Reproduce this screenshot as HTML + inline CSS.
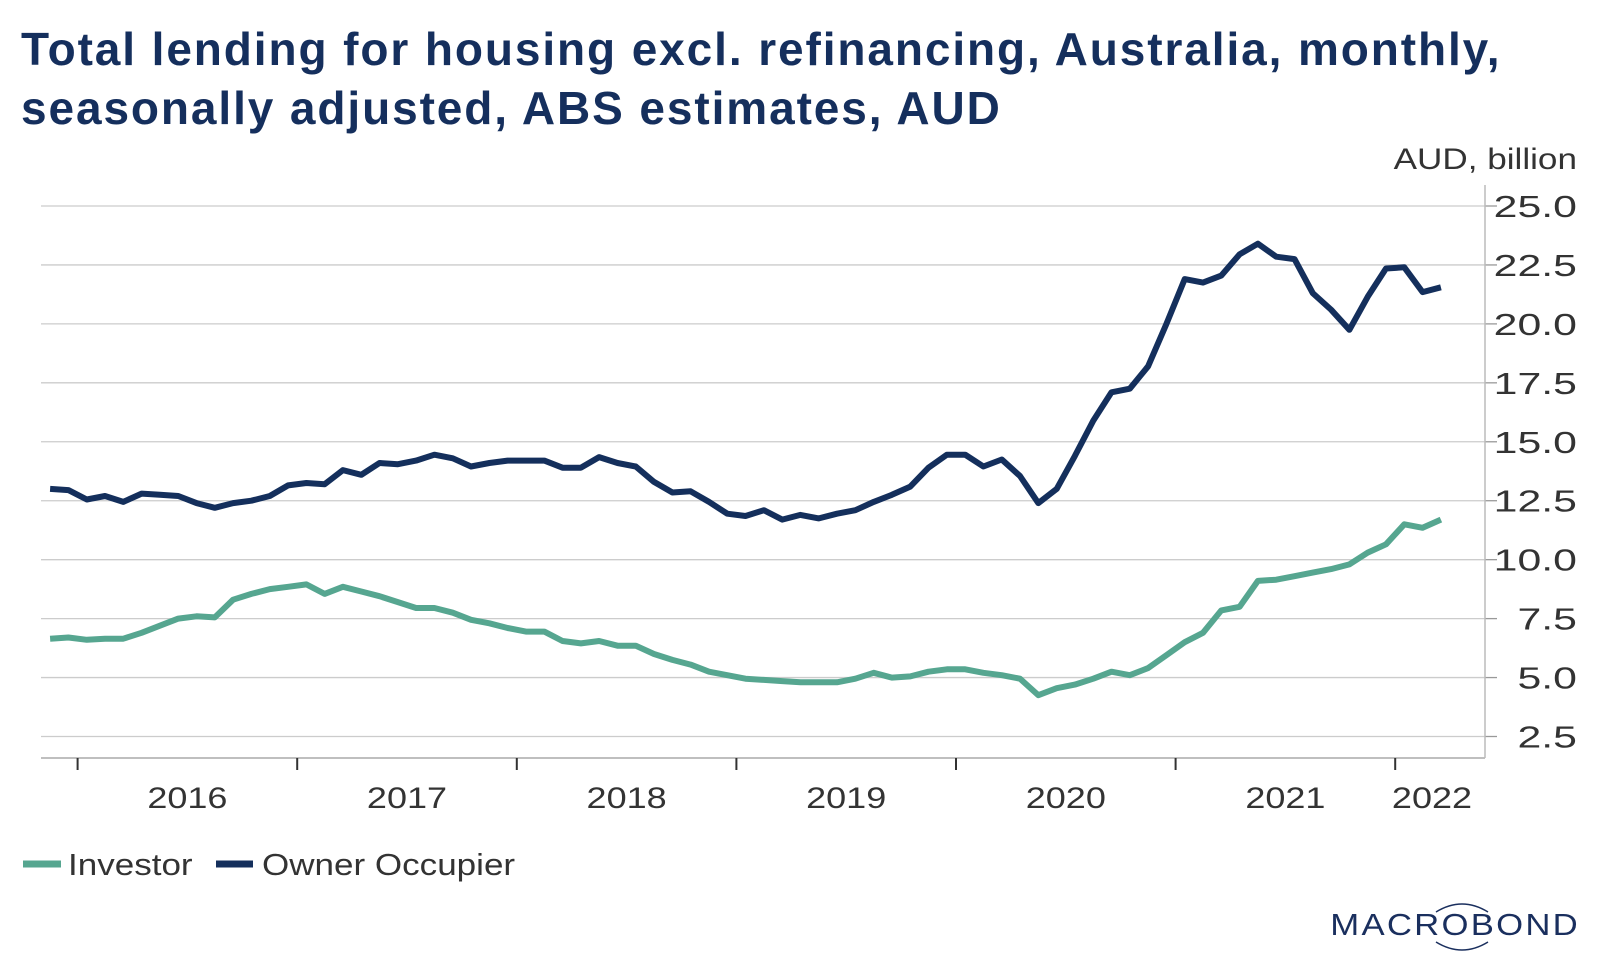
<!DOCTYPE html>
<html><head><meta charset="utf-8"><style>
body{margin:0;background:#fff;width:1600px;height:968px;overflow:hidden;font-family:"Liberation Sans",Arial,sans-serif}
.title{position:absolute;left:21px;top:20px;font-weight:bold;font-size:46px;letter-spacing:1.9px;line-height:59px;color:#152f5d;margin:0;white-space:nowrap}
</style></head><body>
<h1 class="title">Total lending for housing excl. refinancing, Australia, monthly,<br>seasonally adjusted, ABS estimates, AUD</h1>
<svg id="chart" width="1600" height="968" style="position:absolute;left:0;top:0" font-family="Liberation Sans, Arial, sans-serif"></svg>
<script>
const startYear = 2015, startMonth = 10; // Nov 2015 (0-based month)
const investor = [6.65,6.7,6.6,6.65,6.65,6.9,7.2,7.5,7.6,7.55,8.3,8.55,8.75,8.85,8.95,8.55,8.85,8.65,8.45,8.2,7.95,7.95,7.75,7.45,7.3,7.1,6.95,6.95,6.55,6.45,6.55,6.35,6.35,6.0,5.75,5.55,5.25,5.1,4.95,4.9,4.85,4.8,4.8,4.8,4.95,5.2,5.0,5.05,5.25,5.35,5.35,5.2,5.1,4.95,4.25,4.55,4.7,4.95,5.25,5.1,5.4,5.95,6.5,6.9,7.85,8.0,9.1,9.15,9.3,9.45,9.6,9.8,10.3,10.65,11.5,11.35,11.7];
const owner = [13.0,12.95,12.55,12.7,12.45,12.8,12.75,12.7,12.4,12.2,12.4,12.5,12.7,13.15,13.25,13.2,13.8,13.6,14.1,14.05,14.2,14.45,14.3,13.95,14.1,14.2,14.2,14.2,13.9,13.9,14.35,14.1,13.95,13.3,12.85,12.9,12.45,11.95,11.85,12.1,11.7,11.9,11.75,11.95,12.1,12.45,12.75,13.1,13.9,14.45,14.45,13.95,14.25,13.55,12.4,13.0,14.4,15.9,17.1,17.25,18.2,20.0,21.9,21.75,22.05,22.95,23.4,22.85,22.75,21.3,20.6,19.75,21.15,22.35,22.4,21.35,21.55];
const yTicks = [2.5,5.0,7.5,10.0,12.5,15.0,17.5,20.0,22.5,25.0];
const years = [2016,2017,2018,2019,2020,2021,2022];

const svg = document.getElementById('chart');
const NS = 'http://www.w3.org/2000/svg';
const L = 41, R = 1485, T = 185, B = 758;
const yearW = 219.6, x2016 = 77.6;
function xMonth(i){ const m = (startYear-2016)*12 + startMonth + i; return x2016 + (m+0.5)*yearW/12; }
function xYear(y){ return x2016 + (y-2016)*yearW; }
function yV(v){ return 736.5 - (v-2.5)*(736.5-206)/22.5; }
function mk(tag, attrs){ const e=document.createElementNS(NS,tag); for(const k in attrs) e.setAttribute(k,attrs[k]); svg.appendChild(e); return e; }
function stretch(el, f){ const w = el.getComputedTextLength(); el.setAttribute('textLength', (w*f).toFixed(1)); el.setAttribute('lengthAdjust','spacingAndGlyphs'); }

yTicks.forEach(v=>{
  const g = mk('line',{x1:L,x2:R,y1:yV(v),y2:yV(v),stroke:'#cccccc','stroke-width':1.3});
  
  
  const t = mk('line',{x1:R,x2:R+12,y1:yV(v),y2:yV(v),stroke:'#999','stroke-width':1.3});
  
  
  const lb = mk('text',{x:1577,y:yV(v)+11,'text-anchor':'end','font-size':31,fill:'#333'});
  lb.textContent = v.toFixed(1);
  
  
  stretch(lb,1.38);
});
const ax = mk('line',{x1:L,x2:R,y1:B,y2:B,stroke:'#aaa','stroke-width':1.5});


const ay = mk('line',{x1:R,x2:R,y1:T,y2:B,stroke:'#bbb','stroke-width':1.5});


years.forEach(y=>{
  const t = mk('line',{x1:xYear(y),x2:xYear(y),y1:B,y2:B+12,stroke:'#333','stroke-width':2});
  
  
  const lb = mk('text',{x:Math.min(xYear(y)+yearW/2,1432),y:808,'text-anchor':'middle','font-size':30,fill:'#333'});
  lb.textContent = y;
  
  
  stretch(lb,1.2);
});
const unit = mk('text',{x:1577,y:169,'text-anchor':'end','font-size':30,fill:'#333'});
unit.textContent = 'AUD, billion';


stretch(unit,1.17);

function series(data,color,name){
  const p = mk('polyline',{points:data.map((v,i)=>xMonth(i).toFixed(1)+','+yV(v).toFixed(1)).join(' '),fill:'none',stroke:color,'stroke-width':6,'stroke-linejoin':'round'});
  
  
}
series(investor,'#56a690','investor-line');
series(owner,'#142f5c','owner-occupier-line');

const s1 = mk('line',{x1:23,x2:61,y1:864,y2:864,stroke:'#56a690','stroke-width':7});


const t1 = mk('text',{x:68,y:875,'font-size':31,fill:'#333'}); t1.textContent='Investor';


stretch(t1,1.13);
const s2 = mk('line',{x1:216,x2:253,y1:864,y2:864,stroke:'#142f5c','stroke-width':7});


const t2 = mk('text',{x:262,y:875,'font-size':31,fill:'#333'}); t2.textContent='Owner Occupier';


stretch(t2,1.13);

const logo = mk('text',{x:1580,y:935,'text-anchor':'end','font-size':31,fill:'#1a2f5e','letter-spacing':2});
logo.textContent='MACROBOND';


stretch(logo,1.12);
const arc = mk('path',{d:'M1436,912 Q1462,896 1488,912 M1436,942 Q1462,958 1488,942',fill:'none',stroke:'#1a2f5e','stroke-width':1.5});


</script>
</body></html>
